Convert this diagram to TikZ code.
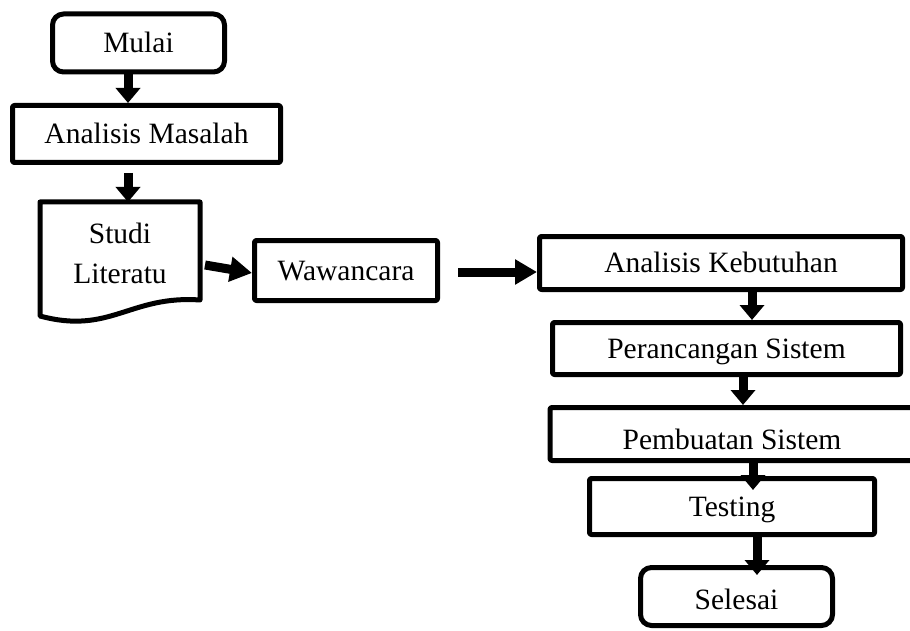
\documentclass[tikz,border=0pt]{standalone}
\usepackage{fontspec}
\setmainfont{Liberation Serif}
\usetikzlibrary{arrows.meta,calc}
\begin{document}
\begin{tikzpicture}[x=1pt,y=-1pt,
  label font/.style={font=\fontsize{29.5}{40}\selectfont},
  box/.style={draw, line width=5pt, rounded corners=2pt, line join=round, inner sep=0pt,
    text height=19.5pt, text depth=0pt, label font},
  term/.style={box, rounded corners=11pt},
  flow/.style={line width=9pt, -{Triangle[width=24pt,length=15pt]}},
  longflow/.style={line width=9pt, -{Triangle[width=24pt,length=22pt]}},
]
\clip (0,0) rectangle (910,631);
\fill[white] (0,0) rectangle (910,631);

% process steps
\node[term, minimum width=172pt, minimum height=58pt] (mulai) at (138.5,43) {Mulai};
\node[box, minimum width=268pt, minimum height=57pt] (anal) at (146.5,134) {Analisis Masalah};
\node[outer sep=0pt, inner sep=0pt, minimum width=160pt, minimum height=114pt] (studi) at (120,259) {};
\draw[line width=5pt, line join=round]
  (studi.north west) -- (studi.north east) -- ([yshift=16pt]studi.south east)
  .. controls (130,295) and (110,335) .. (studi.south west) -- cycle;
\node[label font, align=center] (studitext) at (120,253) {Studi\\Literatu};
\node[box, minimum width=183pt, minimum height=60pt] (waw) at (346,270.5) {Wawancara};
\node[box, minimum width=363pt, minimum height=53pt] (ak) at (721,263) {Analisis Kebutuhan};
\node[box, minimum width=348pt, minimum height=52pt] (per) at (726.5,348.5) {Perancangan Sistem};
% this box runs on past the right margin
\node[box, minimum width=384pt, minimum height=53pt] (pem) at (742,434)
  {\raisebox{-6pt}{Pembuatan Sistem}\hspace*{20pt}};
\node[box, minimum width=285pt, minimum height=56pt] (test) at (732,506.5) {Testing};
\node[term, minimum width=192pt, minimum height=58pt] (sel) at (736.5,596.5) {\raisebox{-3pt}{Selesai}};

% connectors
\draw[flow] ([xshift=-10.5pt]mulai.south) -- ([xshift=-18.5pt]anal.north);
\draw[flow] ([xshift=-18.5pt,yshift=-8pt]anal.south) -- ([xshift=8pt]studi.north);
\draw[longflow] ([xshift=5pt,yshift=-6pt]studi.east) -- ([yshift=-2.5pt]waw.west);
\draw[longflow] ([xshift=18pt,yshift=-1.5pt]waw.east) -- ([yshift=-9pt]ak.west);
\draw[flow] ([xshift=31pt]ak.south) -- ([xshift=25.5pt]per.north);
\draw[flow] ([xshift=16.5pt]per.south) -- ([xshift=1pt]pem.north);
\draw[flow, shorten >=-14pt] ([xshift=11pt]pem.south) -- ([xshift=21pt]test.north);
\draw[flow, shorten >=-10pt] ([xshift=25pt]test.south) -- ([xshift=20.5pt]sel.north);
\end{tikzpicture}
\end{document}
